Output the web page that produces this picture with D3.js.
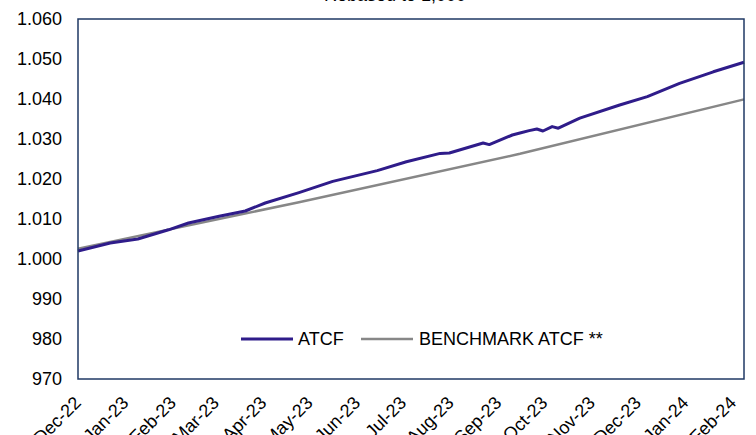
<!DOCTYPE html>
<html>
<head>
<meta charset="utf-8">
<script src="https://cdn.jsdelivr.net/npm/d3@7"></script>
<style>
  body { margin: 0; background: #fff; }
  text { font-family: "Liberation Sans", Arial, sans-serif; fill: #000; }
</style>
</head>
<body>
<div id="chart"></div>
<script>
// Data
const atcfDates = ["2022-12-01", "2022-12-22", "2023-01-09", "2023-01-29", "2023-02-11", "2023-03-03",
    "2023-03-20", "2023-04-02", "2023-04-24", "2023-05-16", "2023-06-14", "2023-07-03", "2023-07-25",
    "2023-07-31", "2023-08-22", "2023-08-26", "2023-09-10", "2023-09-15", "2023-09-21", "2023-09-26",
    "2023-09-30", "2023-10-06", "2023-10-10", "2023-10-24", "2023-11-19", "2023-12-07", "2023-12-28",
    "2024-01-19", "2024-02-08"];
const atcfValues = [1002.0, 1004.0, 1005.0, 1007.3, 1009.0, 1010.7,
    1012.0, 1014.0, 1016.6, 1019.4, 1022.1, 1024.3, 1026.4,
    1026.5, 1029.0, 1028.6, 1031.0, 1031.5, 1032.1, 1032.5,
    1032.0, 1033.1, 1032.7, 1035.2, 1038.5, 1040.6, 1043.9,
    1046.8, 1049.2];
const benchDates = ["2022-12-01", "2023-04-24", "2023-09-15", "2024-02-08"];
const benchValues = [1002.6, 1014.2, 1026.3, 1039.9];
const yTicks = [970, 980, 990, 1000, 1010, 1020, 1030, 1040, 1050, 1060];
const seriesNames = ["ATCF", "BENCHMARK ATCF **"];
const titleText = "Rebased to 1,000";

const W = 756, H = 435;
const margin = {top: 19, right: 12, bottom: 56, left: 78};
const parse = d3.timeParse("%Y-%m-%d");

const atcf = atcfDates.map((d, i) => ({date: parse(d), value: atcfValues[i]}));
const bench = benchDates.map((d, i) => ({date: parse(d), value: benchValues[i]}));

const svg = d3.select("#chart").append("svg")
    .attr("width", W)
    .attr("height", H);

// Scales
const x = d3.scaleTime()
    .domain([parse("2022-12-01"), parse("2024-02-08")])
    .range([margin.left, W - margin.right]);

const y = d3.scaleLinear()
    .domain([970, 1060])
    .range([H - margin.bottom, margin.top]);

// European thousands separator
const fmt = d3.formatLocale({decimal: ",", thousands: ".", grouping: [3], currency: ["", ""]}).format(",");

// Title (cut off at top in the reference)
svg.append("text")
    .attr("x", 395)
    .attr("y", 0.5)
    .attr("text-anchor", "middle")
    .attr("font-size", 18)
    .text(titleText);

// Y axis labels
svg.append("g")
    .selectAll("text")
    .data(yTicks)
    .join("text")
    .attr("x", margin.left - 16)
    .attr("y", d => y(d))
    .attr("dy", "0.35em")
    .attr("text-anchor", "end")
    .attr("font-size", 18)
    .text(d => fmt(d));

// X axis labels, rotated
const months = d3.timeMonth.range(parse("2022-12-01"), parse("2024-02-02"));
svg.append("g")
    .selectAll("text")
    .data(months)
    .join("text")
    .attr("text-anchor", "end")
    .attr("font-size", 18)
    .attr("transform", d => `translate(${x(d) + 4},${H - margin.bottom + 25}) rotate(-45)`)
    .text(d => d3.timeFormat("%b-%y")(d));

// Lines
const line = d3.line()
    .x(d => x(d.date))
    .y(d => y(d.value));

svg.append("path")
    .datum(bench)
    .attr("fill", "none")
    .attr("stroke", "#878787")
    .attr("stroke-width", 2.5)
    .attr("d", line);

svg.append("path")
    .datum(atcf)
    .attr("fill", "none")
    .attr("stroke", "#2f1c8a")
    .attr("stroke-width", 3)
    .attr("stroke-linejoin", "round")
    .attr("d", line);

// Plot area border
svg.append("rect")
    .attr("x", margin.left)
    .attr("y", margin.top)
    .attr("width", W - margin.left - margin.right)
    .attr("height", H - margin.top - margin.bottom)
    .attr("fill", "none")
    .attr("stroke", "#1f3864")
    .attr("stroke-width", 1.5);

// Legend
const legendItems = [
    {name: seriesNames[0], color: "#2f1c8a", width: 3, x1: 241, tx: 298},
    {name: seriesNames[1], color: "#878787", width: 2.5, x1: 361, tx: 419}
];
const legend = svg.append("g")
    .selectAll("g")
    .data(legendItems)
    .join("g");

legend.append("line")
    .attr("x1", d => d.x1)
    .attr("x2", d => d.x1 + 52)
    .attr("y1", 339)
    .attr("y2", 339)
    .attr("stroke", d => d.color)
    .attr("stroke-width", d => d.width);

legend.append("text")
    .attr("x", d => d.tx)
    .attr("y", 339)
    .attr("dy", "0.35em")
    .attr("font-size", 18)
    .text(d => d.name);
</script>
</body>
</html>
